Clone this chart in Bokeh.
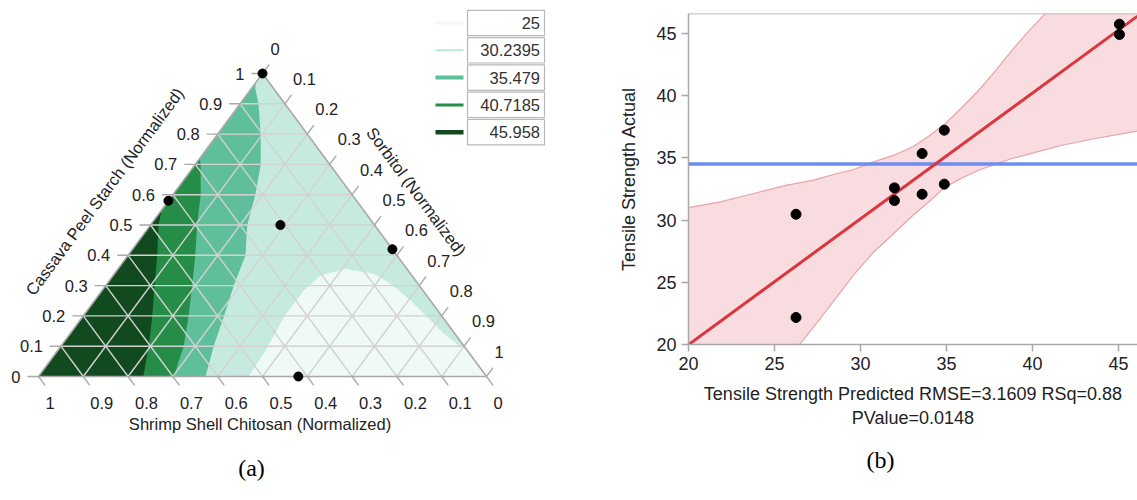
import numpy as np
from bokeh.plotting import figure
from bokeh.models import Range1d, FixedTicker, Span, Title
from bokeh.layouts import row
from bokeh.core.properties import value
from bokeh.embed import file_html
from bokeh.resources import INLINE

# ------------------------------------------------------------------ data (a)
tick_values = [0.0, 0.1, 0.2, 0.3, 0.4, 0.5, 0.6, 0.7, 0.8, 0.9, 1.0]
tick_labels = ["0", "0.1", "0.2", "0.3", "0.4", "0.5", "0.6", "0.7", "0.8", "0.9", "1"]
title_bottom = "Shrimp Shell Chitosan (Normalized)"
title_left = "Cassava Peel Starch (Normalized)"
title_right = "Sorbitol (Normalized)"

levels = [25, 30.2395, 35.479, 40.7185, 45.958]
level_labels = ["25", "30.2395", "35.479", "40.7185", "45.958"]
level_colors = ["#eff9f6", "#c6eadf", "#5fbf9a", "#258d48", "#124a20"]
level_widths = [3, 2.5, 4, 3, 4.5]

# design points (fractions)
design_chitosan = [0.0, 0.42, 0.21, 0.0, 0.42]
design_cassava = [1.0, 0.58, 0.50, 0.42, 0.0]
design_sorbitol = [0.0, 0.0, 0.29, 0.58, 0.58]

# contour boundaries, read as (cassava, sorbitol) pairs
c46_cassava = [0.0, 0.1, 0.2, 0.3, 0.4, 0.5, 0.55]
c46_sorbitol = [0.234, 0.196, 0.154, 0.109, 0.065, 0.018, 0.0]
c41_cassava = [0.0, 0.1, 0.2, 0.3, 0.4, 0.5, 0.6, 0.7, 0.72]
c41_sorbitol = [0.302, 0.274, 0.235, 0.193, 0.150, 0.104, 0.062, 0.012, 0.0]
c35_cassava = [0.0, 0.1, 0.2, 0.3, 0.4, 0.5, 0.6, 0.7, 0.8, 0.9, 0.95, 0.97]
c35_sorbitol = [0.373, 0.341, 0.314, 0.286, 0.262, 0.216, 0.184, 0.146, 0.096, 0.041, 0.009, 0.0]
c30_cassava = [0.0, 0.086, 0.196, 0.284, 0.333, 0.355, 0.339, 0.306, 0.251, 0.196, 0.141, 0.097, 0.09]
c30_sorbitol = [0.469, 0.464, 0.450, 0.450, 0.463, 0.508, 0.579, 0.633, 0.705, 0.770, 0.834, 0.894, 0.91]

# ------------------------------------------------------------------ data (b)
predicted = [45.05, 45.05, 34.87, 34.87, 33.58, 33.58, 31.97, 31.97, 26.25, 26.25]
actual = [45.75, 44.92, 37.23, 32.89, 35.35, 32.08, 32.59, 31.57, 30.47, 22.17]
band_up_x = [20.0, 21.85, 23.79, 25.73, 27.28, 28.63, 29.6, 30.77, 31.93, 33.05, 33.96,
             34.93, 35.90, 36.87, 37.84, 38.81, 39.78, 40.94, 44.0, 46.5]
band_up_y = [31.01, 31.46, 32.14, 32.81, 33.21, 33.75, 34.07, 34.68, 35.22, 35.90, 36.74,
             37.77, 39.05, 40.44, 42.0, 43.66, 45.2, 46.9, 51.8, 55.9]
band_lo_x = [20.0, 23.0, 26.5, 27.66, 28.63, 29.6, 30.77, 31.93, 33.05, 33.96, 34.93,
             35.90, 36.87, 37.84, 38.81, 40.26, 41.72, 43.65, 46.13, 47.0]
band_lo_y = [9.2, 14.3, 20.08, 22.09, 23.83, 25.6, 27.44, 28.92, 30.39, 31.46, 32.67,
             33.39, 34.01, 34.49, 34.95, 35.48, 36.02, 36.56, 37.17, 37.4]
x_ticks = [20, 25, 30, 35, 40, 45]
y_ticks = [20, 25, 30, 35, 40, 45]
x_label = "Tensile Strength Predicted RMSE=3.1609 RSq=0.88\nPValue=0.0148"
y_label = "Tensile Strength Actual"
x_end = 46.10
y_end = 46.61

FONT = value("Liberation Sans")
GRAY = "#a9a9a9"

# ------------------------------------------------------------------ layout of (a)
X0, W, Y0, H = 38.0, 448.0, 376.0, 303.0   # triangle placement in page pixels
P1W, PH = 608, 500


def ux(px):
    return (px - X0) / W


def vy(py):
    return (Y0 - py) / H


def proj(cassava, sorbitol):
    cassava = np.asarray(cassava, float)
    sorbitol = np.asarray(sorbitol, float)
    return sorbitol + cassava / 2.0, cassava


p1 = figure(width=P1W, height=PH, x_range=Range1d(ux(0), ux(P1W)),
            y_range=Range1d(vy(PH), vy(0)), output_backend="svg",
            toolbar_location=None, min_border=0,
            x_axis_location=None, y_axis_location=None)
p1.grid.visible = False
p1.outline_line_color = None

# base triangle (mint)
p1.patch([0, 1, 0.5], [0, 0, 1], fill_color=level_colors[1], line_color=None)
# lowest region (dome) reaching bottom and right edge
u, v = proj(c30_cassava, c30_sorbitol)
p1.patch(list(u) + [1.0], list(v) + [0.0], fill_color=level_colors[0], line_color=None)
# regions attached to the left edge
for cas, sor, col in [(c35_cassava, c35_sorbitol, level_colors[2]),
                      (c41_cassava, c41_sorbitol, level_colors[3]),
                      (c46_cassava, c46_sorbitol, level_colors[4])]:
    u, v = proj(cas, sor)
    p1.patch(list(u) + [0.0], list(v) + [0.0], fill_color=col, line_color=None)

# grid lines
gx, gy = [], []
for t in tick_values[1:-1]:
    gx.append([t / 2, 1 - t / 2]); gy.append([t, t])                    # cassava const
    gx.append([1 - t, (1 - t) / 2]); gy.append([0, 1 - t])              # chitosan const
    gx.append([t, t + (1 - t) / 2]); gy.append([0, 1 - t])              # sorbitol const
p1.multi_line(gx, gy, line_color="#d2d2d2", line_width=1.4)

# triangle edges
p1.multi_line([[0, 1], [0, 0.5], [1, 0.5]], [[0, 0], [0, 1], [0, 1]],
              line_color=GRAY, line_width=1.6)

# ticks
TL = 11.0
tt = TL / np.hypot(W / 2, H)
tx, ty = [], []
lx, ly, rx, ry, bx, bly = [], [], [], [], [], []
for t in tick_values:
    u0, v0 = t / 2, t                       # left axis (cassava)
    tx.append([u0 - TL / W, u0]); ty.append([v0, v0])
    lx.append(u0 - 18 / W); ly.append(v0)
    u0 = 1 - t                              # bottom axis (chitosan)
    tx.append([u0, u0 + 0.5 * tt]); ty.append([0, -tt])
    bx.append(u0 + 7 / W); bly.append(-26 / H)
    u0, v0 = (1 + t) / 2, 1 - t             # right axis (sorbitol)
    tx.append([u0, u0 + 0.5 * tt]); ty.append([v0, v0 + tt])
    rx.append(u0 + 8 / W); ry.append(v0 + 25 / H)
p1.multi_line(tx, ty, line_color=GRAY, line_width=1.4)

tstyle = dict(text_font=FONT, text_font_size="16.5px", text_color="#222222",
              text_baseline="middle")
p1.text(lx, ly, text=tick_labels, text_align="right", **tstyle)
p1.text(bx, bly, text=tick_labels, text_align="left", **tstyle)
p1.text(rx, ry, text=tick_labels, text_align="left", **tstyle)

ang = np.arctan2(H, W / 2)
p1.text([ux(259.5)], [vy(423)], text=[title_bottom], text_align="center", **tstyle)
p1.text([ux(104)], [vy(191)], text=[title_left], text_align="center", angle=ang, **tstyle)
p1.text([ux(416)], [vy(191)], text=[title_right], text_align="center", angle=-ang, **tstyle)

# design points
u, v = proj(design_cassava, design_sorbitol)
p1.scatter(u, v, size=9, color="black")

# legend
for i, (lab, col, lw) in enumerate(zip(level_labels, level_colors, level_widths)):
    yc = 22.5 + i * 27.3
    p1.quad(left=[ux(467)], right=[ux(544)], top=[vy(yc - 12.7)], bottom=[vy(yc + 12.7)],
            fill_color="white", line_color="#b8b8b8", line_width=1.2)
    p1.segment(x0=[ux(435)], x1=[ux(463)], y0=[vy(yc)], y1=[vy(yc)],
               line_color=col, line_width=lw)
    p1.text([ux(539.5)], [vy(yc)], text=[lab], text_align="right",
            text_font=FONT, text_font_size="16.5px", text_color="#333333",
            text_baseline="middle")

p1.text([ux(251)], [vy(467)], text=["(a)"], text_align="center", text_baseline="middle",
        text_font=value("Liberation Serif"), text_font_size="24px", text_color="black")

# ------------------------------------------------------------------ (b)
p2 = figure(width=1137 - P1W, height=PH, x_range=Range1d(20, x_end), y_range=Range1d(20, y_end),
            output_backend="svg", toolbar_location=None,
            min_border_left=80, min_border_right=0, min_border_top=13, min_border_bottom=156)
for p in (p1, p2):
    if "frame_align" in p.properties():
        p.frame_align = False
p2.grid.visible = False
p2.outline_line_color = None
p2.xaxis.ticker = FixedTicker(ticks=x_ticks)
p2.yaxis.ticker = FixedTicker(ticks=y_ticks)
for ax in (p2.xaxis[0], p2.yaxis[0]):
    ax.axis_line_color = GRAY
    ax.axis_line_width = 1.5
    ax.major_tick_line_color = GRAY
    ax.major_tick_line_width = 1.5
    ax.major_tick_out = 7
    ax.major_tick_in = 0
    ax.minor_tick_line_color = None
    ax.major_label_text_font = "Liberation Sans"
    ax.major_label_text_font_size = "18px"
    ax.major_label_text_color = "#222222"
    ax.axis_label_text_font = "Liberation Sans"
    ax.axis_label_text_font_size = "18px"
    ax.axis_label_text_font_style = "normal"
    ax.axis_label_text_color = "#222222"
p2.xaxis.axis_label = x_label
p2.yaxis.axis_label = y_label
p2.yaxis.axis_label_standoff = 14
p2.xaxis.axis_label_standoff = 11
p2.add_layout(Span(location=y_end, dimension="width", line_color=GRAY, line_width=1.5))

p2.patch(band_up_x + band_lo_x[::-1], band_up_y + band_lo_y[::-1],
         fill_color="#f9dcdf", line_color=None)
p2.line(band_up_x, band_up_y, line_color="#e8a2a8", line_width=1.2)
p2.line(band_lo_x, band_lo_y, line_color="#e8a2a8", line_width=1.2)

mean_actual = float(np.mean(actual))
p2.line([20, x_end], [mean_actual, mean_actual], line_color="#6d8df0", line_width=3.5)

slope, intercept = np.polyfit(predicted, actual, 1)
fx = np.array([20, x_end])
p2.line(fx, slope * fx + intercept, line_color="#d9363e", line_width=3)

p2.scatter(predicted, actual, size=10, color="black")

p2.add_layout(Title(text="(b)", align="left", offset=178, standoff=28,
                    text_font="Liberation Serif", text_font_size="24px",
                    text_font_style="normal", text_color="black"), "below")

layout = row(p1, p2)
open("out.html", "w").write(file_html(layout, INLINE))
